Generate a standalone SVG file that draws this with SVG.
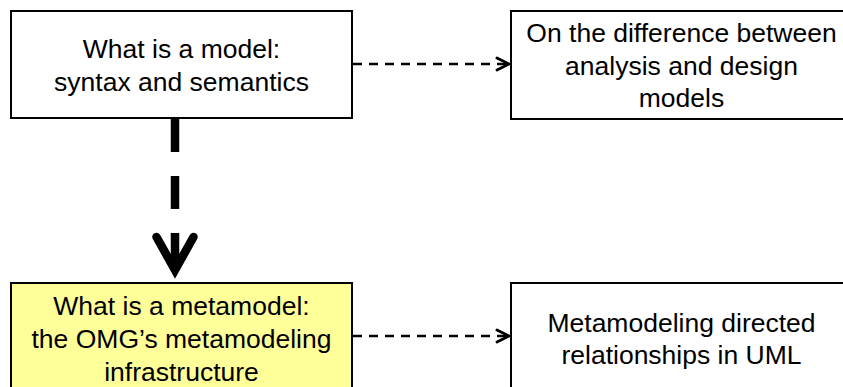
<svg xmlns="http://www.w3.org/2000/svg" width="843" height="387" viewBox="0 0 843 387">
  <defs>
    <style>
      .box { fill: #ffffff; stroke: #000000; stroke-width: 2; }
      .hl { fill: #ffff99; }
      .label { font-family: "Liberation Sans", Arial, sans-serif; font-size: 26.5px; fill: #000000; text-anchor: middle; }
      .thin { fill: none; stroke: #000000; stroke-width: 2.4; stroke-dasharray: 9 7; }
      .thick { fill: none; stroke: #000000; stroke-width: 8.5; stroke-dasharray: 33 24; }
    </style>
    <marker id="openArrow" markerUnits="userSpaceOnUse" markerWidth="20" markerHeight="20" refX="14" refY="8" orient="auto" viewBox="0 0 20 16">
      <polyline points="2,2 14,8 2,14" fill="none" stroke="#000000" stroke-width="2.8" stroke-linecap="round" stroke-linejoin="miter"/>
    </marker>
  </defs>

  <rect width="843" height="387" fill="#ffffff"/>

  <g id="node-model">
    <rect class="box" x="11" y="11" width="341" height="107"/>
    <text class="label" x="181.5" y="57.5">What is a model:</text>
    <text class="label" x="181.5" y="91">syntax and semantics</text>
  </g>

  <g id="node-analysis-design">
    <rect class="box" x="511" y="11" width="342" height="108"/>
    <text class="label" x="681.5" y="42">On the difference between</text>
    <text class="label" x="681.5" y="75">analysis and design</text>
    <text class="label" x="681.5" y="107">models</text>
  </g>

  <g id="node-metamodel">
    <rect class="box hl" x="11" y="283" width="341" height="120"/>
    <text class="label" x="181.5" y="315">What is a metamodel:</text>
    <text class="label" x="181.5" y="348">the OMG’s metamodeling</text>
    <text class="label" x="181.5" y="380.5">infrastructure</text>
  </g>

  <g id="node-directed-relationships">
    <rect class="box" x="511" y="283" width="342" height="120"/>
    <text class="label" x="681.5" y="332">Metamodeling directed</text>
    <text class="label" x="681.5" y="364">relationships in UML</text>
  </g>

  <g id="connectors">
    <line class="thin" x1="353" y1="64" x2="509" y2="64" marker-end="url(#openArrow)"/>
    <line class="thin" x1="353" y1="336" x2="509" y2="336" marker-end="url(#openArrow)"/>
    <line class="thick" x1="175" y1="119" x2="175" y2="270"/>
    <polyline points="156.5,237 175,270 193.5,237" fill="none" stroke="#000000" stroke-width="8.5" stroke-linecap="round" stroke-linejoin="miter" stroke-miterlimit="10"/>
  </g>
</svg>
